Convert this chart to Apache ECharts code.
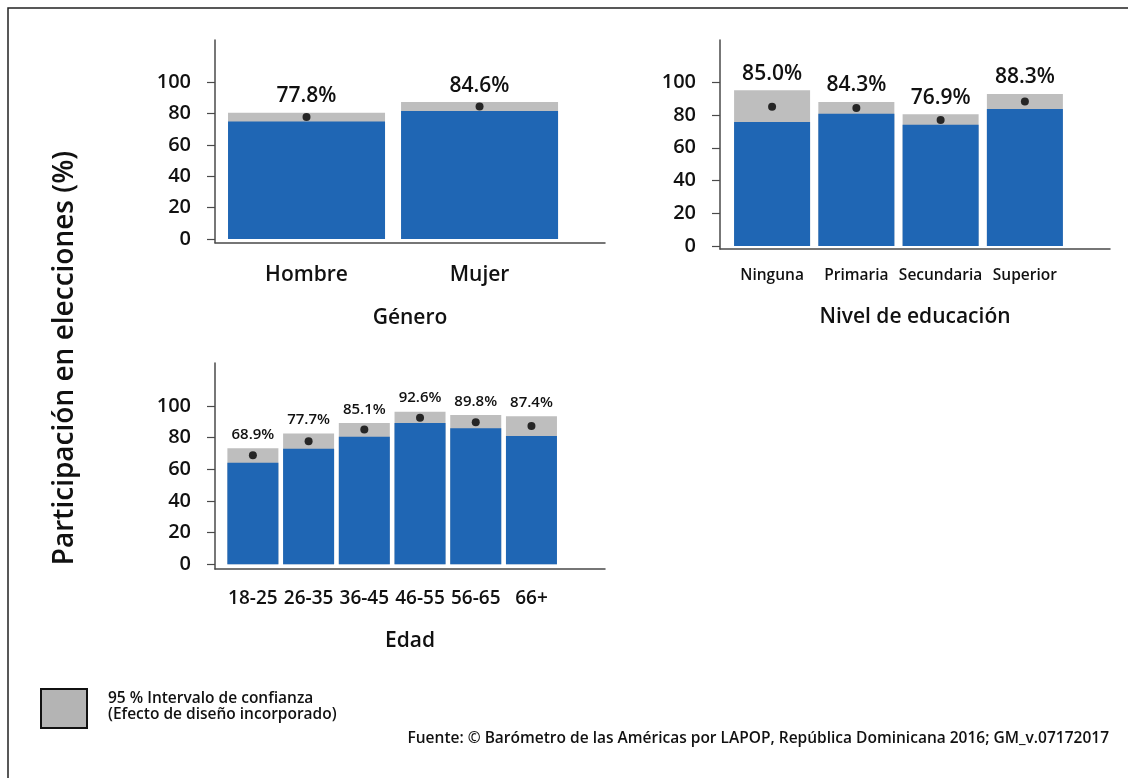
<!DOCTYPE html>
<html>
<head>
<meta charset="utf-8">
<script src="https://cdn.jsdelivr.net/npm/echarts@6/dist/echarts.min.js"></script>
<style>
  html, body { margin: 0; padding: 0; background: #fff; }
  #chart { width: 1128px; height: 778px; }
</style>
</head>
<body>
<div id="chart"></div>
<script>
// Participación en elecciones por grupo: estimación puntual e intervalo de confianza al 95 %
const generoCats = ['Hombre', 'Mujer'];
const generoEst = [77.8, 84.6];
const generoLow = [75.0, 81.7];
const generoHigh = [80.6, 87.4];

const educCats = ['Ninguna', 'Primaria', 'Secundaria', 'Superior'];
const educEst = [85.0, 84.3, 76.9, 88.3];
const educLow = [75.7, 80.7, 74.0, 83.6];
const educHigh = [95.1, 88.0, 80.5, 92.9];

const edadCats = ['18-25', '26-35', '36-45', '46-55', '56-65', '66+'];
const edadEst = [68.9, 77.7, 85.1, 92.6, 89.8, 87.4];
const edadLow = [64.2, 73.0, 80.6, 89.3, 85.9, 81.0];
const edadHigh = [73.3, 82.7, 89.3, 96.4, 94.3, 93.5];

const yTicks = [0, 20, 40, 60, 80, 100];

const FONT = '"Open Sans", "Noto Sans", sans-serif';
const BLUE = '#1f66b4';
const GRAY = '#bebebe';
const INK = '#111111';
const AXIS = '#4a4a4a';

const panels = [
  { cats: generoCats, est: generoEst, low: generoLow, high: generoHigh, title: 'Género',
    grid: { left: 215, top: 40, width: 390, height: 202.7 },
    xMin: -0.529, xMax: 1.725, yMin: -2.4, yMax: 127, barW: 157,
    catSize: 21, catMargin: 22, valSize: 21, nameGap: 65 },
  { cats: educCats, est: educEst, low: educLow, high: educHigh, title: 'Nivel de educación',
    grid: { left: 720, top: 40, width: 390, height: 209 },
    xMin: -0.618, xMax: 4.01, yMin: -1.8, yMax: 125.8, barW: 76,
    catSize: 15.5, catMargin: 19, valSize: 21, nameGap: 58 },
  { cats: edadCats, est: edadEst, low: edadLow, high: edadHigh, title: 'Edad',
    grid: { left: 215, top: 363, width: 390, height: 206 },
    xMin: -0.68, xMax: 6.32, yMin: -3.0, yMax: 127.2, barW: 51,
    catSize: 19, catMargin: 20, valSize: 15, nameGap: 62 }
];

const grids = [], xAxes = [], yAxes = [], series = [];

panels.forEach((p, k) => {
  grids.push(Object.assign({ containLabel: false }, p.grid));
  const idx = p.cats.map((_, i) => i);
  xAxes.push({
    type: 'value', gridIndex: k, min: p.xMin, max: p.xMax,
    splitLine: { show: false },
    axisLine: { show: true, onZero: false, lineStyle: { color: AXIS, width: 1.5 } },
    axisTick: { show: false },
    axisLabel: {
      customValues: idx, margin: p.catMargin,
      formatter: v => p.cats[Math.round(v)] || '',
      fontFamily: FONT, fontSize: p.catSize, fontWeight: 600, color: INK
    },
    name: p.title, nameLocation: 'middle', nameGap: p.nameGap,
    nameTextStyle: { fontFamily: FONT, fontSize: 21, fontWeight: 600, color: INK }
  });
  yAxes.push({
    type: 'value', gridIndex: k, min: p.yMin, max: p.yMax,
    splitLine: { show: false },
    axisLine: { show: true, onZero: false, lineStyle: { color: AXIS, width: 1.5 } },
    axisTick: { show: true, customValues: yTicks, length: 8, lineStyle: { color: AXIS, width: 1.2 } },
    axisLabel: {
      customValues: yTicks, margin: 24,
      fontFamily: FONT, fontSize: 20, fontWeight: 600, color: INK
    }
  });
  // upper bound of the interval (gray), labelled with the point estimate
  series.push({
    type: 'bar', xAxisIndex: k, yAxisIndex: k, barWidth: p.barW, barGap: '-100%',
    itemStyle: { color: GRAY },
    data: idx.map(i => [i, p.high[i]]),
    label: {
      show: true, position: 'top', distance: 6,
      formatter: d => p.est[d.dataIndex].toFixed(1) + '%',
      fontFamily: FONT, fontSize: p.valSize, fontWeight: 600, color: INK
    },
    silent: true, z: 2
  });
  // lower bound of the interval (blue)
  series.push({
    type: 'bar', xAxisIndex: k, yAxisIndex: k, barWidth: p.barW, barGap: '-100%',
    itemStyle: { color: BLUE },
    data: idx.map(i => [i, p.low[i]]),
    silent: true, z: 3
  });
  // point estimate
  series.push({
    type: 'scatter', xAxisIndex: k, yAxisIndex: k, symbolSize: 8,
    itemStyle: { color: '#000' },
    data: idx.map(i => [i, p.est[i]]),
    silent: true, z: 5
  });
});

const chart = echarts.init(document.getElementById('chart'), null, { renderer: 'canvas' });
chart.setOption({
  animation: false,
  backgroundColor: '#ffffff',
  grid: grids,
  xAxis: xAxes,
  yAxis: yAxes,
  series: series,
  graphic: [
    { type: 'rect', shape: { x: 8, y: 8, width: 1300, height: 1000 },
      style: { fill: 'none', stroke: '#222', lineWidth: 1.5 }, silent: true },
    { type: 'text', x: 65, y: 358, rotation: Math.PI / 2,
      style: { text: 'Participación en elecciones (%)', fontFamily: FONT, fontSize: 28,
               fontWeight: 600, fill: INK, align: 'center', verticalAlign: 'middle' } },
    { type: 'rect', shape: { x: 41, y: 689, width: 46, height: 39 },
      style: { fill: '#b4b4b4', stroke: '#111', lineWidth: 2 } },
    { type: 'text', x: 108, y: 699,
      style: { text: '95 % Intervalo de confianza', fontFamily: FONT, fontSize: 15.5,
               fontWeight: 600, fill: INK, verticalAlign: 'middle' } },
    { type: 'text', x: 108, y: 715,
      style: { text: '(Efecto de diseño incorporado)', fontFamily: FONT, fontSize: 15.5,
               fontWeight: 600, fill: INK, verticalAlign: 'middle' } },
    { type: 'text', x: 1109, y: 739,
      style: { text: 'Fuente: © Barómetro de las Américas por LAPOP, República Dominicana 2016; GM_v.07172017',
               fontFamily: FONT, fontSize: 15.5, fontWeight: 600, fill: INK,
               align: 'right', verticalAlign: 'middle' } }
  ]
});
</script>
</body>
</html>
